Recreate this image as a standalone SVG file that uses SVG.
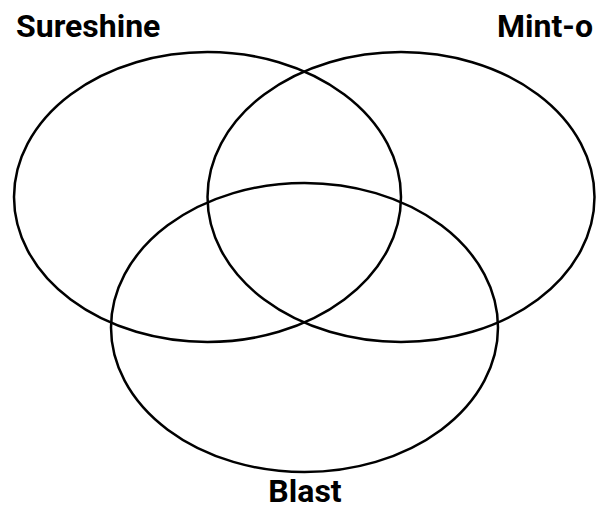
<svg xmlns="http://www.w3.org/2000/svg" width="603" height="506" viewBox="0 0 603 506">
<style>
.set{fill:none;stroke:#000;stroke-width:2.5}
.lbl{font-family:Roboto,"Liberation Sans",sans-serif;font-weight:bold;font-size:32px;fill:#000}
</style>
<rect width="603" height="506" fill="#fff"/>
<g id="sureshine"><ellipse class="set" cx="207.5" cy="197" rx="193.5" ry="145"/><text class="lbl" x="16" y="37">Sureshine</text></g>
<g id="mint-o"><ellipse class="set" cx="401" cy="197" rx="193.5" ry="145"/><text class="lbl" x="593" y="37" text-anchor="end">Mint-o</text></g>
<g id="blast"><ellipse class="set" cx="304.5" cy="327.5" rx="193.5" ry="144.5"/><text class="lbl" x="305" y="502" text-anchor="middle">Blast</text></g>
</svg>
